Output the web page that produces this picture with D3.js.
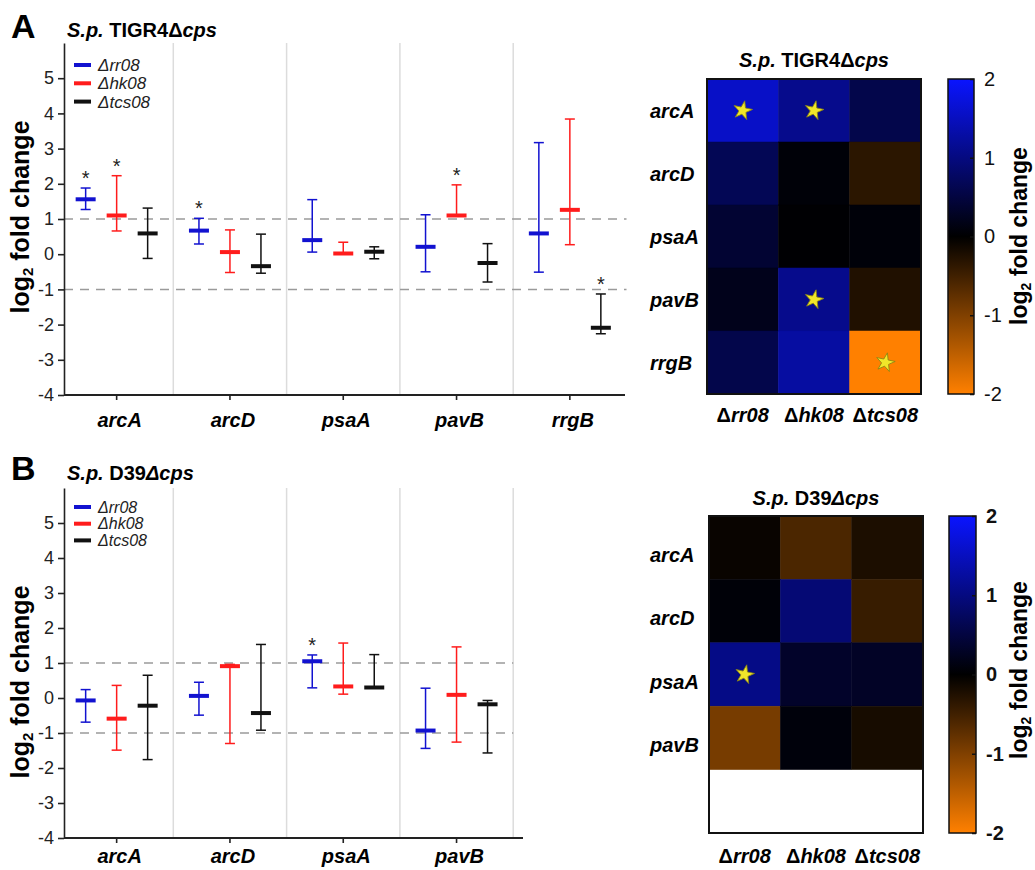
<!DOCTYPE html>
<html>
<head>
<meta charset="utf-8">
<script src="https://cdn.jsdelivr.net/npm/d3@7"></script>
<style>
	body { margin: 0; background: #fff; }
	svg { font-family: "Liberation Sans", Arial, sans-serif; }
</style>
</head>
<body>
<div id="chart-area"></div>
<script>
// DATA
var mutants = ["rr08", "hk08", "tcs08"];
var mutantColors = ["#1212d0", "#ff1c1c", "#111111"];
var yTicks = [-4, -3, -2, -1, 0, 1, 2, 3, 4, 5];
var refLines = [-1, 1];
var cbTicks = [-2, -1, 0, 1, 2];

// panel A : S.p. TIGR4 dcps
var genesA = ["arcA", "arcD", "psaA", "pavB", "rrgB"];
var meanA_rr08 = [1.56, 0.67, 0.40, 0.21, 0.59];
var hiA_rr08 = [1.88, 1.02, 1.55, 1.12, 3.17];
var loA_rr08 = [1.27, 0.29, 0.06, -0.50, -0.51];
var meanA_hk08 = [1.10, 0.06, 0.02, 1.10, 1.26];
var hiA_hk08 = [2.23, 0.69, 0.34, 1.97, 3.84];
var loA_hk08 = [0.66, -0.52, 0.00, 1.08, 0.27];
var meanA_tcs08 = [0.59, -0.34, 0.07, -0.25, -2.09];
var hiA_tcs08 = [1.31, 0.57, 0.21, 0.30, -1.13];
var loA_tcs08 = [-0.12, -0.54, -0.13, -0.79, -2.26];
// asterisks on the bars / stars on the heatmap, [gene][mutant]
var sigA = [[1, 1, 0], [1, 0, 0], [0, 0, 0], [0, 1, 0], [0, 0, 1]];
var starA = [[1, 1, 0], [0, 0, 0], [0, 0, 0], [0, 1, 0], [0, 0, 1]];

// panel B : S.p. D39 dcps
var genesB = ["arcA", "arcD", "psaA", "pavB"];
var meanB_rr08 = [-0.07, 0.06, 1.05, -0.93];
var hiB_rr08 = [0.24, 0.45, 1.23, 0.28];
var loB_rr08 = [-0.69, -0.49, 0.29, -1.44];
var meanB_hk08 = [-0.59, 0.91, 0.33, 0.09];
var hiB_hk08 = [0.36, 0.96, 1.57, 1.46];
var loB_hk08 = [-1.49, -1.30, 0.11, -1.26];
var meanB_tcs08 = [-0.22, -0.43, 0.30, -0.18];
var hiB_tcs08 = [0.65, 1.53, 1.24, -0.07];
var loB_tcs08 = [-1.76, -0.92, 0.29, -1.57];
var sigB = [[0, 0, 0], [0, 0, 0], [1, 0, 0], [0, 0, 0]];
var starB = [[0, 0, 0], [0, 0, 0], [1, 0, 0], [0, 0, 0]];

var svg = d3.select("#chart-area")
	.append("svg")
	.attr("width", 1035)
	.attr("height", 870);

var heatColor = d3.scaleLinear()
	.domain([-2, 0, 2])
	.range(["#ff8000", "#000000", "#0a14ff"])
	.clamp(true);

// gradient for the colour bars
var grad = svg.append("defs").append("linearGradient")
	.attr("id", "cbar")
	.attr("x1", 0).attr("x2", 0).attr("y1", 1).attr("y2", 0);
d3.range(-2, 2.01, 0.25).forEach(function (v) {
	grad.append("stop")
		.attr("offset", (v + 2) / 4)
		.attr("stop-color", heatColor(v));
});

var panelA = {
	letter: "A", letterY: 38, titleY: 37,
	title: [["S.p.", "italic"], [" TIGR4\u0394", "normal"], ["cps", "italic"]],
	genes: genesA,
	mean: [meanA_rr08, meanA_hk08, meanA_tcs08],
	hi: [hiA_rr08, hiA_hk08, hiA_tcs08],
	lo: [loA_rr08, loA_hk08, loA_tcs08],
	sig: sigA, star: starA,
	yRange: [395, 43], axisRight: 625, xLabelDy: 32,
	legendY: 65, legendStep: 18.3, legendFont: 17, yLabelY: 217,
	heat: { x0: 707, x1: 921, y0: 79, y1: 394, titleY: 67, colY: 422, rowDy: 0, cbX: 948, cbW: 26, cbBold: false, labelY: 236 }
};

var panelB = {
	letter: "B", letterY: 480, titleY: 480,
	title: [["S.p.", "italic"], [" D39", "normal"], ["\u0394cps", "italic"]],
	genes: genesB,
	mean: [meanB_rr08, meanB_hk08, meanB_tcs08],
	hi: [hiB_rr08, hiB_hk08, hiB_tcs08],
	lo: [loB_rr08, loB_hk08, loB_tcs08],
	sig: sigB, star: starB,
	yRange: [838, 488], axisRight: 523, xLabelDy: 25,
	legendY: 507, legendStep: 16.7, legendFont: 16, yLabelY: 682,
	heat: { x0: 709, x1: 923, y0: 516, y1: 833, titleY: 505, colY: 863, rowDy: 7, cbX: 949, cbW: 27, cbBold: true, labelY: 670 }
};

drawPanel(panelA);
drawPanel(panelB);

function drawPanel(p) {
	var axisX = 64;
	var bandW = 113.3;

	// SCALES
	var y = d3.scaleLinear().domain([-4, 6]).range(p.yRange);
	var x = d3.scaleBand().domain(p.genes).range([60, 60 + bandW * p.genes.length]);
	var dx = d3.scalePoint().domain(mutants).range([-31, 31]);
	var cx = function (g) { return x(g) + x.bandwidth() / 2; };

	var g = svg.append("g");

	// LETTER + TITLE
	g.append("text")
		.attr("x", 11).attr("y", p.letterY)
		.attr("font-size", "34px").attr("font-weight", "bold")
		.text(p.letter);
	var t = g.append("text")
		.attr("x", 67).attr("y", p.titleY)
		.attr("font-size", "20px").attr("font-weight", "bold");
	p.title.forEach(function (part) {
		t.append("tspan").attr("font-style", part[1]).text(part[0]);
	});

	// SEPARATORS
	g.selectAll(".sep")
		.data(p.genes.slice(0, 4))
		.enter().append("line")
		.attr("x1", function (d) { return x(d) + x.bandwidth(); })
		.attr("x2", function (d) { return x(d) + x.bandwidth(); })
		.attr("y1", y(6)).attr("y2", y(-4))
		.attr("stroke", "#dcdcdc").attr("stroke-width", 1.5);

	// DASHED REFERENCE LINES
	g.selectAll(".ref")
		.data(refLines)
		.enter().append("line")
		.attr("x1", axisX).attr("x2", x.range()[1])
		.attr("y1", function (d) { return y(d); })
		.attr("y2", function (d) { return y(d); })
		.attr("stroke", "#9a9a9a").attr("stroke-width", 1.5)
		.attr("stroke-dasharray", "9,7");

	// Y AXIS
	var yAxisCall = d3.axisLeft(y)
		.tickValues(yTicks)
		.tickFormat(function (d) { return String(d); })
		.tickSize(6).tickSizeOuter(0).tickPadding(4);
	var ya = g.append("g")
		.attr("transform", "translate(" + axisX + ",0)")
		.call(yAxisCall)
		.attr("font-family", null).attr("font-size", null);
	ya.selectAll("text").attr("font-size", "18px").attr("fill", "#222");
	ya.selectAll("line, path").attr("stroke", "#222").attr("stroke-width", 1.6);

	var yl = g.append("text")
		.attr("transform", "translate(29," + p.yLabelY + ") rotate(-90)")
		.attr("text-anchor", "middle")
		.attr("font-size", "25px").attr("font-weight", "bold");
	yl.append("tspan").text("log");
	yl.append("tspan").attr("font-size", "15px").attr("dy", 4).text("2");
	yl.append("tspan").attr("dy", -4).text(" fold change");

	// X AXIS
	g.append("line")
		.attr("x1", axisX).attr("x2", p.axisRight)
		.attr("y1", y(-4)).attr("y2", y(-4))
		.attr("stroke", "#222").attr("stroke-width", 1.8);
	g.selectAll(".xtick")
		.data(p.genes)
		.enter().append("line")
		.attr("x1", cx).attr("x2", cx)
		.attr("y1", y(-4)).attr("y2", y(-4) + 5)
		.attr("stroke", "#222").attr("stroke-width", 1.6);
	g.selectAll(".xlab")
		.data(p.genes)
		.enter().append("text")
		.attr("x", function (d) { return cx(d) + 3; })
		.attr("y", y(-4) + p.xLabelDy)
		.attr("text-anchor", "middle")
		.attr("font-size", "20px").attr("font-weight", "bold").attr("font-style", "italic")
		.text(function (d) { return d; });

	// LEGEND
	mutants.forEach(function (m, i) {
		var ly = p.legendY + i * p.legendStep;
		g.append("line")
			.attr("x1", 74).attr("x2", 91)
			.attr("y1", ly).attr("y2", ly)
			.attr("stroke", mutantColors[i]).attr("stroke-width", 4);
		g.append("text")
			.attr("x", 98).attr("y", ly).attr("dy", "0.36em")
			.attr("font-size", p.legendFont + "px").attr("font-style", "italic").attr("fill", "#222")
			.text("\u0394" + m);
	});

	// ERROR BARS
	mutants.forEach(function (m, i) {
		var rows = p.genes.map(function (gene, k) {
			return { gene: gene, mean: p.mean[i][k], hi: p.hi[i][k], lo: p.lo[i][k], sig: p.sig[k][i] };
		});
		var bx = function (d) { return cx(d.gene) + dx(m); };
		var eb = g.append("g").attr("stroke", mutantColors[i]);

		eb.selectAll(".stem").data(rows).enter().append("line")
			.attr("x1", bx).attr("x2", bx)
			.attr("y1", function (d) { return y(d.hi); })
			.attr("y2", function (d) { return y(d.lo); })
			.attr("stroke-width", 1.5);
		eb.selectAll(".capHi").data(rows).enter().append("line")
			.attr("x1", function (d) { return bx(d) - 5; })
			.attr("x2", function (d) { return bx(d) + 5; })
			.attr("y1", function (d) { return y(d.hi); })
			.attr("y2", function (d) { return y(d.hi); })
			.attr("stroke-width", 1.5);
		eb.selectAll(".capLo").data(rows).enter().append("line")
			.attr("x1", function (d) { return bx(d) - 5; })
			.attr("x2", function (d) { return bx(d) + 5; })
			.attr("y1", function (d) { return y(d.lo); })
			.attr("y2", function (d) { return y(d.lo); })
			.attr("stroke-width", 1.5);
		eb.selectAll(".mean").data(rows).enter().append("line")
			.attr("x1", function (d) { return bx(d) - 10; })
			.attr("x2", function (d) { return bx(d) + 10; })
			.attr("y1", function (d) { return y(d.mean); })
			.attr("y2", function (d) { return y(d.mean); })
			.attr("stroke-width", 4);

		g.selectAll(".ast" + m).data(rows.filter(function (d) { return d.sig; }))
			.enter().append("text")
			.attr("x", bx)
			.attr("y", function (d) { return y(d.hi) - 3; })
			.attr("text-anchor", "middle")
			.attr("font-size", "20px").attr("fill", "#222")
			.text("*");
	});

	// HEATMAP
	var h = p.heat;
	var hx = d3.scaleBand().domain(mutants).range([h.x0, h.x1]);
	var hy = d3.scaleBand().domain(d3.range(5)).range([h.y0, h.y1]);
	var cells = [];
	p.genes.forEach(function (gene, k) {
		mutants.forEach(function (m, i) {
			cells.push({ k: k, m: m, v: p.mean[i][k], star: p.star[k][i] });
		});
	});

	g.append("text")
		.attr("x", (h.x0 + h.x1) / 2).attr("y", h.titleY)
		.attr("text-anchor", "middle")
		.attr("font-size", "20px").attr("font-weight", "bold")
		.selectAll("tspan").data(p.title).enter().append("tspan")
		.attr("font-style", function (d) { return d[1]; })
		.text(function (d) { return d[0]; });

	g.selectAll(".cell").data(cells).enter().append("rect")
		.attr("x", function (d) { return hx(d.m); })
		.attr("y", function (d) { return hy(d.k); })
		.attr("width", hx.bandwidth())
		.attr("height", hy.bandwidth())
		.attr("fill", function (d) { return heatColor(d.v); })
		.attr("stroke", function (d) { return heatColor(d.v); })
		.attr("stroke-width", 0.5);

	g.append("rect")
		.attr("x", h.x0).attr("y", h.y0)
		.attr("width", h.x1 - h.x0).attr("height", h.y1 - h.y0)
		.attr("fill", "none").attr("stroke", "#111").attr("stroke-width", 2);

	g.selectAll(".star").data(cells.filter(function (d) { return d.star; }))
		.enter().append("path")
		.attr("d", d3.symbol(d3.symbolStar, 110))
		.attr("transform", function (d) {
			return "translate(" + (hx(d.m) + hx.bandwidth() / 2) + "," + (hy(d.k) + hy.bandwidth() / 2) + ") rotate(12)";
		})
		.attr("fill", "#f0e62a").attr("stroke", "#8a8414").attr("stroke-width", 0.8);

	g.selectAll(".rowlab").data(p.genes).enter().append("text")
		.attr("x", 650)
		.attr("y", function (d, k) { return hy(k) + hy.bandwidth() / 2 + h.rowDy; })
		.attr("dy", "0.36em")
		.attr("font-size", "20px").attr("font-weight", "bold").attr("font-style", "italic")
		.text(function (d) { return d; });

	var cl = g.selectAll(".collab").data(mutants).enter().append("text")
		.attr("x", function (d) { return hx(d) + hx.bandwidth() / 2; })
		.attr("y", h.colY)
		.attr("text-anchor", "middle")
		.attr("font-size", "20px").attr("font-weight", "bold");
	cl.append("tspan").text("\u0394");
	cl.append("tspan").attr("font-style", "italic").text(function (d) { return d; });

	// COLOUR BAR
	var cy = d3.scaleLinear().domain([-2, 2]).range([h.y1, h.y0]);
	g.append("rect")
		.attr("x", h.cbX).attr("y", h.y0)
		.attr("width", h.cbW).attr("height", h.y1 - h.y0)
		.attr("fill", "url(#cbar)")
		.attr("stroke", "#111").attr("stroke-width", 1.5);
	var cbAxis = d3.axisRight(cy)
		.tickValues(cbTicks)
		.tickFormat(function (d) { return String(d); })
		.tickSize(-4).tickSizeOuter(0).tickPadding(10);
	var ca = g.append("g")
		.attr("transform", "translate(" + (h.cbX + h.cbW) + ",0)")
		.call(cbAxis)
		.attr("font-family", null).attr("font-size", null);
	ca.select(".domain").remove();
	ca.selectAll("line").attr("stroke", "#111").attr("stroke-width", 1.5);
	ca.selectAll("text")
		.attr("font-size", "20px").attr("fill", "#111")
		.attr("font-weight", h.cbBold ? "bold" : "normal");

	var cbl = g.append("text")
		.attr("transform", "translate(1027," + h.labelY + ") rotate(-90)")
		.attr("text-anchor", "middle")
		.attr("font-size", "23px").attr("font-weight", "bold");
	cbl.append("tspan").text("log");
	cbl.append("tspan").attr("font-size", "14px").attr("dy", 4).text("2");
	cbl.append("tspan").attr("dy", -4).text(" fold change");
}
</script>
</body>
</html>
